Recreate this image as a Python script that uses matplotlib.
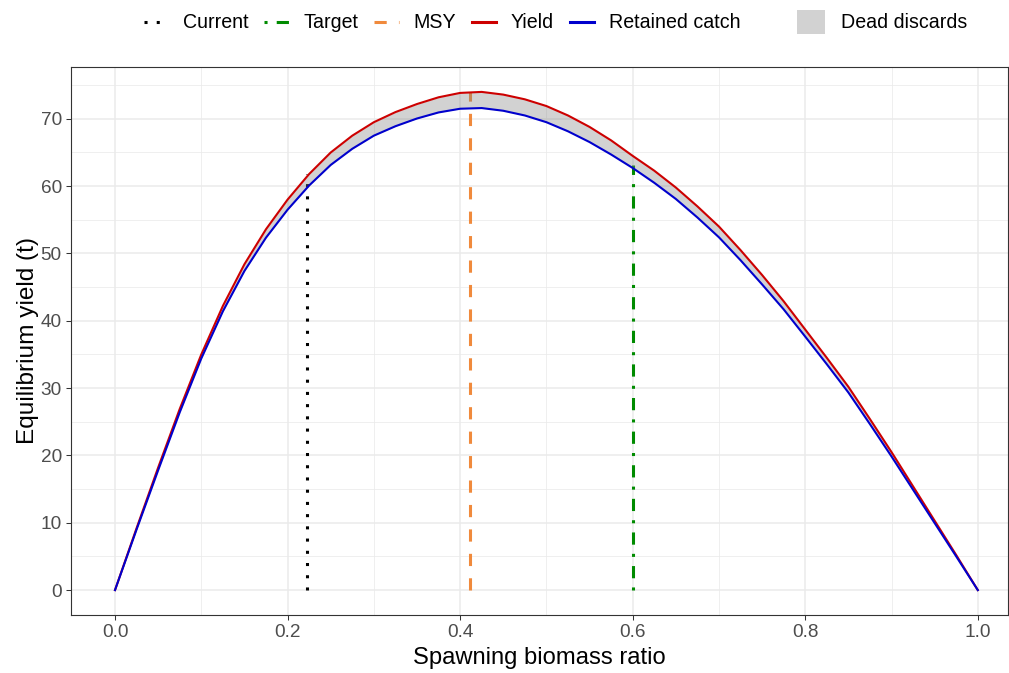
import numpy as np
import matplotlib
matplotlib.use('Agg')
import matplotlib.pyplot as plt
from matplotlib.lines import Line2D
from matplotlib.patches import Patch

plt.rcParams['font.family'] = ['Liberation Sans', 'DejaVu Sans']

# spawning biomass ratio grid and curves
sbr = [0.0, 0.025, 0.05, 0.075, 0.10, 0.125, 0.15, 0.175, 0.20, 0.225,
       0.25, 0.275, 0.30, 0.325, 0.35, 0.375, 0.40, 0.425, 0.45, 0.475,
       0.50, 0.525, 0.55, 0.575, 0.60, 0.625, 0.65, 0.675, 0.70, 0.725,
       0.75, 0.775, 0.80, 0.825, 0.85, 0.875, 0.90, 0.925, 0.95, 0.975, 1.0]
yield_t = [0.0, 9.2, 18.2, 26.9, 35.0, 42.2, 48.4, 53.6, 58.0, 61.8,
           65.0, 67.5, 69.5, 71.0, 72.2, 73.2, 73.85, 74.0, 73.6, 72.9,
           71.9, 70.5, 68.8, 66.8, 64.5, 62.3, 59.8, 57.0, 54.0, 50.5,
           46.8, 42.9, 38.7, 34.5, 30.2, 25.4, 20.5, 15.4, 10.3, 5.2, 0.0]
retained = [0.0, 9.0, 17.8, 26.4, 34.4, 41.4, 47.4, 52.35, 56.5, 60.1,
            63.15, 65.55, 67.5, 68.9, 70.05, 70.95, 71.5, 71.6, 71.2, 70.5,
            69.5, 68.15, 66.55, 64.7, 62.7, 60.5, 58.1, 55.35, 52.4, 49.0,
            45.4, 41.7, 37.65, 33.55, 29.35, 24.65, 19.85, 14.9, 9.95, 5.0, 0.0]

# reference points: (x, top of the vertical line)
ref_names = ['Current', 'Target', 'MSY']
ref_x = [0.222, 0.60, 0.412]
ref_top = [61.8, 63.2, 74.0]

ref_colors = ['black', '#008B00', '#F08A3C']
ref_dashes = [(1, 3), (1, 3, 4, 3), (4, 4)]
col_yield = '#CD0000'
col_ret = '#0000CD'

fig = plt.figure(figsize=(10.09, 6.73), dpi=100)
ax = fig.add_axes([71 / 1009, 1 - 615 / 673, (1008 - 71) / 1009, (615 - 67) / 673])

for x, top, c, d in zip(ref_x, ref_top, ref_colors, ref_dashes):
    ax.plot([x, x], [0, top], color=c, lw=2.2, dashes=d, dash_capstyle='butt', zorder=2)

ax.fill_between(sbr, retained, yield_t, color='#7F7F7F', alpha=0.35, lw=0, zorder=3)
ax.plot(sbr, yield_t, color=col_yield, lw=1.5, zorder=4)
ax.plot(sbr, retained, color=col_ret, lw=1.5, zorder=4)

ax.set_xlim(-0.051, 1.035)
ax.set_ylim(-3.7, 77.7)
ax.set_xticks(np.arange(0, 1.01, 0.2))
ax.set_xticks(np.arange(0.1, 1.0, 0.2), minor=True)
ax.set_yticks(np.arange(0, 71, 10))
ax.set_yticks(np.arange(5, 76, 10), minor=True)
ax.set_xticklabels(['0.0', '0.2', '0.4', '0.6', '0.8', '1.0'])
ax.grid(which='major', color='#EBEBEB', lw=1.1)
ax.grid(which='minor', color='#EBEBEB', lw=0.55)
ax.set_axisbelow(True)
ax.tick_params(which='major', length=3.6, width=0.75, color='#333333',
               labelsize=13.7, labelcolor='#4D4D4D', pad=3)
ax.tick_params(which='minor', length=0)
for s in ax.spines.values():
    s.set_color('#333333')
    s.set_linewidth(0.8)

ax.set_xlabel('Spawning biomass ratio', fontsize=17.1, labelpad=4)
ax.set_ylabel('Equilibrium yield (t)', fontsize=17.6, labelpad=1)

line_handles = [Line2D([], [], color=c, lw=2.2, dashes=d) for c, d in zip(ref_colors, ref_dashes)]
line_handles += [Line2D([], [], color=col_yield, lw=2.2), Line2D([], [], color=col_ret, lw=2.2)]
fig.legend(line_handles, ref_names + ['Yield', 'Retained catch'], ncol=5,
           loc='center left', bbox_to_anchor=(144 / 1009, 1 - 23 / 673),
           frameon=False, fontsize=14.1, handlelength=1.25, handletextpad=0.75,
           columnspacing=0.8, borderpad=0, borderaxespad=0)
fig.legend([Patch(facecolor='#7F7F7F', alpha=0.35, lw=0)], ['Dead discards'],
           loc='center left', bbox_to_anchor=(797 / 1009, 1 - 22 / 673),
           frameon=False, fontsize=14.1, handlelength=1.45, handleheight=1.45,
           handletextpad=0.8, borderpad=0, borderaxespad=0)

fig.savefig('out.png', dpi=100)
